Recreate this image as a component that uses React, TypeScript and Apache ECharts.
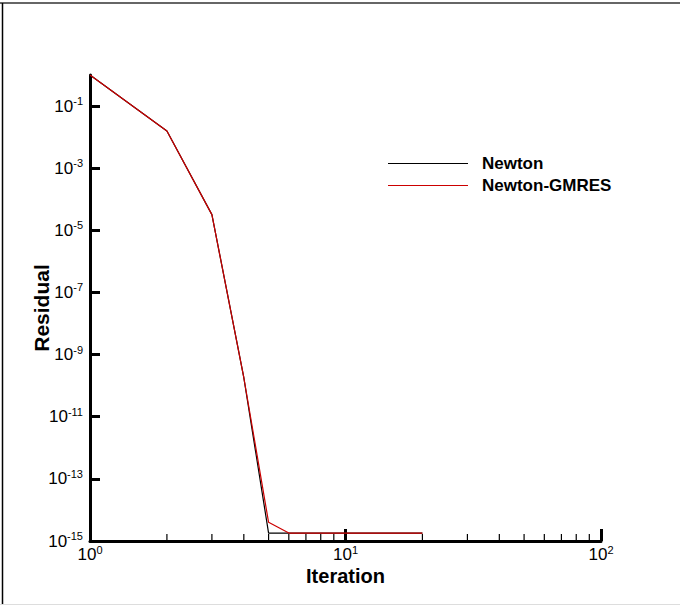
import React, { useEffect, useRef } from "react";
import * as echarts from "echarts";

const iterations = [1, 2, 3, 4, 5, 6, 7, 8, 9, 10, 11, 12, 13, 14, 15, 16, 17, 18, 19, 20];
const newton = [1, 1.58e-2, 3.2e-5, 1.8e-10, 1.8e-15, 1.8e-15, 1.8e-15, 1.8e-15, 1.8e-15, 1.8e-15, 1.8e-15, 1.8e-15, 1.8e-15, 1.8e-15, 1.8e-15, 1.8e-15, 1.8e-15, 1.8e-15, 1.8e-15, 1.8e-15];
const newtonGmres = [1, 1.58e-2, 3.2e-5, 1.8e-10, 4.0e-15, 1.8e-15, 1.8e-15, 1.8e-15, 1.8e-15, 1.8e-15, 1.8e-15, 1.8e-15, 1.8e-15, 1.8e-15, 1.8e-15, 1.8e-15, 1.8e-15, 1.8e-15, 1.8e-15, 1.8e-15];
const xMinorTicks = [2, 3, 4, 5, 6, 7, 8, 9, 20, 30, 40, 50, 60, 70, 80, 90];
const seriesNames = ["Newton", "Newton-GMRES"];
const seriesColors = ["#000000", "#cc0000"];

const FONT = "Arial, 'Liberation Sans', Helvetica, sans-serif";

const supRich = {
  b: { fontSize: 17, fontFamily: FONT, color: "#000" },
  s: { fontSize: 11, fontFamily: FONT, color: "#000", verticalAlign: "bottom", padding: [0, 0, 10, 0] },
};
const fmtPow = (v: number) => {
  const e = Math.round(Math.log10(v));
  return `{b|10}{s|${e}}`;
};

export default function App() {
  const ref = useRef<HTMLDivElement>(null);
  useEffect(() => {
    document.body.style.margin = "0";
    const chart = echarts.init(ref.current!, null, { renderer: "svg" });
    chart.setOption({
      animation: false,
      backgroundColor: "#fff",
      grid: { left: 90, right: 79, top: 75, bottom: 65, containLabel: false },
      legend: {
        data: seriesNames.map((n, i) => ({
          name: n,
          itemStyle: { color: seriesColors[i] },
          lineStyle: { color: seriesColors[i], width: 1.2 },
        })),
        orient: "vertical",
        left: 388,
        top: 155,
        padding: 0,
        itemWidth: 80,
        itemHeight: 10,
        itemGap: 5,
        icon: "path://M0,4.5L80,4.5L80,5.5L0,5.5Z",
        textStyle: { fontSize: 17, fontWeight: "bold", fontFamily: FONT, color: "#000", padding: [0, 0, 0, 9] },
      },
      xAxis: {
        type: "log",
        logBase: 10,
        min: 1,
        max: 100,
        name: "Iteration",
        nameLocation: "middle",
        nameGap: 25,
        nameMoveOverlap: false,
        nameTextStyle: { fontSize: 20, fontWeight: "bold", fontFamily: FONT, color: "#000" },
        axisLine: { lineStyle: { color: "#000", width: 3 } },
        axisTick: { inside: true, length: 12, lineStyle: { color: "#000", width: 3 } },
        axisLabel: { formatter: fmtPow, rich: supRich, margin: 3 },
        splitLine: { show: false },
      },
      yAxis: {
        type: "log",
        logBase: 10,
        min: 1e-15,
        max: 1,
        interval: 2,
        name: "Residual",
        nameLocation: "middle",
        nameGap: 38,
        nameMoveOverlap: false,
        nameRotate: 90,
        nameTextStyle: { fontSize: 21, fontWeight: "bold", fontFamily: FONT, color: "#000" },
        axisLine: { lineStyle: { color: "#000", width: 3 } },
        axisTick: { inside: true, length: 10, lineStyle: { color: "#000", width: 3 } },
        axisLabel: { formatter: fmtPow, rich: supRich, margin: 7, showMaxLabel: false },
        splitLine: { show: false },
      },
      series: [
        {
          type: "custom",
          silent: true,
          data: xMinorTicks.map((x) => [x, 1e-15]),
          renderItem: (params: any, api: any) => {
            const p = api.coord([api.value(0), api.value(1)]);
            return {
              type: "line",
              shape: { x1: p[0], y1: p[1], x2: p[0], y2: p[1] - 7 },
              style: { stroke: "#000", lineWidth: 1.2 },
            };
          },
          z: 1,
        },
        {
          name: seriesNames[0],
          type: "line",
          data: iterations.map((x, i) => [x, newton[i]]),
          showSymbol: false,
          symbol: "none",
          itemStyle: { color: seriesColors[0] },
          lineStyle: { color: seriesColors[0], width: 1.2 },
          z: 2,
        },
        {
          name: seriesNames[1],
          type: "line",
          data: iterations.map((x, i) => [x, newtonGmres[i]]),
          showSymbol: false,
          symbol: "none",
          itemStyle: { color: seriesColors[1] },
          lineStyle: { color: seriesColors[1], width: 1.2 },
          z: 3,
        },
      ],
      graphic: [
        { type: "line", shape: { x1: 0, y1: 3, x2: 680, y2: 3 }, style: { stroke: "#666", lineWidth: 2 } },
        { type: "line", shape: { x1: 2.5, y1: 3, x2: 2.5, y2: 604 }, style: { stroke: "#000", lineWidth: 1.5 } },
        { type: "line", shape: { x1: 0, y1: 604.5, x2: 680, y2: 604.5 }, style: { stroke: "#ddd", lineWidth: 1 } },
      ],
    });
    return () => chart.dispose();
  }, []);
  return <div ref={ref} style={{ position: "absolute", left: 0, top: 0, width: 680, height: 606 }} />;
}
